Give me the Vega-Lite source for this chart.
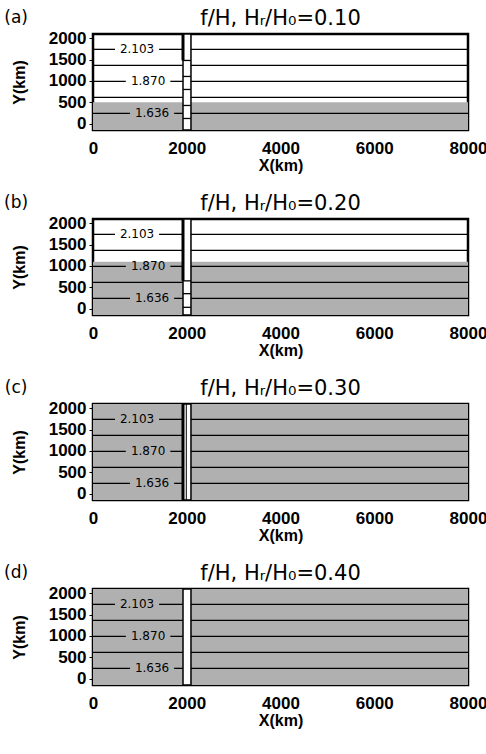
{
  "$schema": "https://vega.github.io/schema/vega-lite/v6.json",
  "padding": {"left": 2, "top": 6, "right": 2, "bottom": 4},
  "background": "white",
  "spacing": 89,
  "bounds": "flush",
  "config": {
    "view": {"stroke": "black", "strokeWidth": 2.5},
    "axis": {"grid": false, "domain": false, "labelColor": "black", "titleColor": "black",
      "labelFont": "Liberation Sans Narrow, Liberation Sans", "labelFontSize": 17, "labelFontWeight": "bold",
      "titleFont": "Liberation Sans", "titleFontSize": 16, "titleFontWeight": "bold", "tickColor": "black", "labelFlush": false},
    "axisX": {"ticks": false, "labelPadding": 10, "titlePadding": 1},
    "axisY": {"tickSize": 4, "labelPadding": 3, "titlePadding": 21, "labelOverlap": false},
    "title": {"font": "DejaVu Sans", "fontSize": 21, "fontWeight": "normal", "color": "black", "offset": -20, "frame": "group"}
  },
  "datasets": {
    "shade": [
      {"p": "a", "x": 0, "x2": 8000, "y": -150, "y2": 500},
      {"p": "b", "x": 0, "x2": 8000, "y": -150, "y2": 1100},
      {"p": "c", "x": 0, "x2": 8000, "y": -150, "y2": 2100},
      {"p": "d", "x": 0, "x2": 8000, "y": -150, "y2": 2100}
    ],
    "strip": [
      {"p": "a", "x": 1920, "x2": 2090, "y": -150, "y2": 2100},
      {"p": "b", "x": 1920, "x2": 2090, "y": -150, "y2": 2100},
      {"p": "c", "x": 1920, "x2": 2090, "y": -150, "y2": 2100},
      {"p": "d", "x": 1920, "x2": 2090, "y": -150, "y2": 2100}
    ],
    "seg": [
      {"p": "a", "x": 0, "x2": 470, "y": 1740}, {"p": "a", "x": 1410, "x2": 1920, "y": 1740}, {"p": "a", "x": 2090, "x2": 8000, "y": 1740},
      {"p": "a", "x": 0, "x2": 1920, "y": 1365}, {"p": "a", "x": 2090, "x2": 8000, "y": 1365},
      {"p": "a", "x": 0, "x2": 700, "y": 990}, {"p": "a", "x": 1650, "x2": 1920, "y": 990}, {"p": "a", "x": 2090, "x2": 8000, "y": 990},
      {"p": "a", "x": 0, "x2": 1920, "y": 615}, {"p": "a", "x": 2090, "x2": 8000, "y": 615},
      {"p": "a", "x": 0, "x2": 790, "y": 240}, {"p": "a", "x": 1730, "x2": 1920, "y": 240}, {"p": "a", "x": 2090, "x2": 8000, "y": 240},
      {"p": "a", "x": 1920, "x2": 2090, "y": 1480}, {"p": "a", "x": 1920, "x2": 2090, "y": 1105}, {"p": "a", "x": 1920, "x2": 2090, "y": 800}, {"p": "a", "x": 1920, "x2": 2090, "y": 425}, {"p": "a", "x": 1920, "x2": 2090, "y": 120},
      {"p": "b", "x": 0, "x2": 470, "y": 1740}, {"p": "b", "x": 1410, "x2": 1920, "y": 1740}, {"p": "b", "x": 2090, "x2": 8000, "y": 1740},
      {"p": "b", "x": 0, "x2": 1920, "y": 1365}, {"p": "b", "x": 2090, "x2": 8000, "y": 1365},
      {"p": "b", "x": 0, "x2": 700, "y": 990}, {"p": "b", "x": 1650, "x2": 1920, "y": 990}, {"p": "b", "x": 2090, "x2": 8000, "y": 990},
      {"p": "b", "x": 0, "x2": 1920, "y": 615}, {"p": "b", "x": 2090, "x2": 8000, "y": 615},
      {"p": "b", "x": 0, "x2": 790, "y": 240}, {"p": "b", "x": 1730, "x2": 1920, "y": 240}, {"p": "b", "x": 2090, "x2": 8000, "y": 240},
      {"p": "b", "x": 1920, "x2": 2090, "y": 650}, {"p": "b", "x": 1920, "x2": 2090, "y": 350}, {"p": "b", "x": 1920, "x2": 2090, "y": 30},
      {"p": "c", "x": 0, "x2": 470, "y": 1740}, {"p": "c", "x": 1410, "x2": 1920, "y": 1740}, {"p": "c", "x": 2090, "x2": 8000, "y": 1740},
      {"p": "c", "x": 0, "x2": 1920, "y": 1365}, {"p": "c", "x": 2090, "x2": 8000, "y": 1365},
      {"p": "c", "x": 0, "x2": 700, "y": 990}, {"p": "c", "x": 1650, "x2": 1920, "y": 990}, {"p": "c", "x": 2090, "x2": 8000, "y": 990},
      {"p": "c", "x": 0, "x2": 1920, "y": 615}, {"p": "c", "x": 2090, "x2": 8000, "y": 615},
      {"p": "c", "x": 0, "x2": 790, "y": 240}, {"p": "c", "x": 1730, "x2": 1920, "y": 240}, {"p": "c", "x": 2090, "x2": 8000, "y": 240},
      {"p": "d", "x": 0, "x2": 470, "y": 1740}, {"p": "d", "x": 1410, "x2": 1920, "y": 1740}, {"p": "d", "x": 2090, "x2": 8000, "y": 1740},
      {"p": "d", "x": 0, "x2": 1920, "y": 1365}, {"p": "d", "x": 2090, "x2": 8000, "y": 1365},
      {"p": "d", "x": 0, "x2": 700, "y": 990}, {"p": "d", "x": 1650, "x2": 1920, "y": 990}, {"p": "d", "x": 2090, "x2": 8000, "y": 990},
      {"p": "d", "x": 0, "x2": 1920, "y": 615}, {"p": "d", "x": 2090, "x2": 8000, "y": 615},
      {"p": "d", "x": 0, "x2": 790, "y": 240}, {"p": "d", "x": 1730, "x2": 1920, "y": 240}, {"p": "d", "x": 2090, "x2": 8000, "y": 240}
    ],
    "edge": [
      {"p": "a", "x": 1920, "y": 1480, "y2": 2100},
      {"p": "b", "x": 1920, "y": 650, "y2": 2100},
      {"p": "c", "x": 1920, "y": -150, "y2": 2100}
    ],
    "mid": [
      {"p": "c", "x": 1990, "y": -150, "y2": 2100}
    ],
    "lab": [
      {"p": "a", "x": 940, "y": 1740, "t": "2.103"}, {"p": "a", "x": 1175, "y": 990, "t": "1.870"}, {"p": "a", "x": 1260, "y": 240, "t": "1.636"},
      {"p": "b", "x": 940, "y": 1740, "t": "2.103"}, {"p": "b", "x": 1175, "y": 990, "t": "1.870"}, {"p": "b", "x": 1260, "y": 240, "t": "1.636"},
      {"p": "c", "x": 940, "y": 1740, "t": "2.103"}, {"p": "c", "x": 1175, "y": 990, "t": "1.870"}, {"p": "c", "x": 1260, "y": 240, "t": "1.636"},
      {"p": "d", "x": 940, "y": 1740, "t": "2.103"}, {"p": "d", "x": 1175, "y": 990, "t": "1.870"}, {"p": "d", "x": 1260, "y": 240, "t": "1.636"}
    ],
    "letter": [
      {"p": "a", "x": -1640, "y": 2475, "t": "(a)"},
      {"p": "b", "x": -1640, "y": 2475, "t": "(b)"},
      {"p": "c", "x": -1640, "y": 2475, "t": "(c)"},
      {"p": "d", "x": -1640, "y": 2475, "t": "(d)"}
    ]
  },
  "vconcat": [
    {
      "width": 375, "height": 96,
      "title": "f/H, Hᵣ/H₀=0.10",
      "encoding": {
        "x": {"field": "x", "type": "quantitative", "scale": {"domain": [0, 8000], "nice": false, "zero": false}, "axis": {"title": "X(km)", "values": [0, 2000, 4000, 6000, 8000], "format": "d"}},
        "y": {"field": "y", "type": "quantitative", "scale": {"domain": [-150, 2100], "nice": false, "zero": false}, "axis": {"title": "Y(km)", "values": [0, 500, 1000, 1500, 2000], "format": "d"}}
      },
      "layer": [
        {"data": {"name": "shade"}, "transform": [{"filter": {"field": "p", "equal": "a"}}], "mark": {"type": "rect", "fill": "#b0b0b0"}, "encoding": {"x2": {"field": "x2"}, "y2": {"field": "y2"}}},
        {"data": {"name": "strip"}, "transform": [{"filter": {"field": "p", "equal": "a"}}], "mark": {"type": "rect", "fill": "white", "stroke": "black", "strokeWidth": 1.5}, "encoding": {"x2": {"field": "x2"}, "y2": {"field": "y2"}}},
        {"data": {"name": "seg"}, "transform": [{"filter": {"field": "p", "equal": "a"}}], "mark": {"type": "rule", "color": "black", "strokeWidth": 1.3}, "encoding": {"x2": {"field": "x2"}}},
        {"data": {"name": "edge"}, "transform": [{"filter": {"field": "p", "equal": "a"}}], "mark": {"type": "rule", "color": "black", "strokeWidth": 3}, "encoding": {"y2": {"field": "y2"}}},
        {"data": {"name": "lab"}, "transform": [{"filter": {"field": "p", "equal": "a"}}], "mark": {"type": "text", "font": "DejaVu Sans", "fontSize": 12, "color": "black", "baseline": "middle"}, "encoding": {"text": {"field": "t"}}},
        {"data": {"name": "letter"}, "transform": [{"filter": {"field": "p", "equal": "a"}}], "mark": {"type": "text", "font": "DejaVu Sans", "fontSize": 17, "color": "black", "baseline": "middle", "clip": false}, "encoding": {"text": {"field": "t"}}}
      ]
    },
    {
      "width": 375, "height": 96,
      "title": "f/H, Hᵣ/H₀=0.20",
      "encoding": {
        "x": {"field": "x", "type": "quantitative", "scale": {"domain": [0, 8000], "nice": false, "zero": false}, "axis": {"title": "X(km)", "values": [0, 2000, 4000, 6000, 8000], "format": "d"}},
        "y": {"field": "y", "type": "quantitative", "scale": {"domain": [-150, 2100], "nice": false, "zero": false}, "axis": {"title": "Y(km)", "values": [0, 500, 1000, 1500, 2000], "format": "d"}}
      },
      "layer": [
        {"data": {"name": "shade"}, "transform": [{"filter": {"field": "p", "equal": "b"}}], "mark": {"type": "rect", "fill": "#b0b0b0"}, "encoding": {"x2": {"field": "x2"}, "y2": {"field": "y2"}}},
        {"data": {"name": "strip"}, "transform": [{"filter": {"field": "p", "equal": "b"}}], "mark": {"type": "rect", "fill": "white", "stroke": "black", "strokeWidth": 1.5}, "encoding": {"x2": {"field": "x2"}, "y2": {"field": "y2"}}},
        {"data": {"name": "seg"}, "transform": [{"filter": {"field": "p", "equal": "b"}}], "mark": {"type": "rule", "color": "black", "strokeWidth": 1.3}, "encoding": {"x2": {"field": "x2"}}},
        {"data": {"name": "edge"}, "transform": [{"filter": {"field": "p", "equal": "b"}}], "mark": {"type": "rule", "color": "black", "strokeWidth": 3}, "encoding": {"y2": {"field": "y2"}}},
        {"data": {"name": "lab"}, "transform": [{"filter": {"field": "p", "equal": "b"}}], "mark": {"type": "text", "font": "DejaVu Sans", "fontSize": 12, "color": "black", "baseline": "middle"}, "encoding": {"text": {"field": "t"}}},
        {"data": {"name": "letter"}, "transform": [{"filter": {"field": "p", "equal": "b"}}], "mark": {"type": "text", "font": "DejaVu Sans", "fontSize": 17, "color": "black", "baseline": "middle", "clip": false}, "encoding": {"text": {"field": "t"}}}
      ]
    },
    {
      "width": 375, "height": 96,
      "title": "f/H, Hᵣ/H₀=0.30",
      "encoding": {
        "x": {"field": "x", "type": "quantitative", "scale": {"domain": [0, 8000], "nice": false, "zero": false}, "axis": {"title": "X(km)", "values": [0, 2000, 4000, 6000, 8000], "format": "d"}},
        "y": {"field": "y", "type": "quantitative", "scale": {"domain": [-150, 2100], "nice": false, "zero": false}, "axis": {"title": "Y(km)", "values": [0, 500, 1000, 1500, 2000], "format": "d"}}
      },
      "layer": [
        {"data": {"name": "shade"}, "transform": [{"filter": {"field": "p", "equal": "c"}}], "mark": {"type": "rect", "fill": "#b0b0b0"}, "encoding": {"x2": {"field": "x2"}, "y2": {"field": "y2"}}},
        {"data": {"name": "strip"}, "transform": [{"filter": {"field": "p", "equal": "c"}}], "mark": {"type": "rect", "fill": "white", "stroke": "black", "strokeWidth": 1.5}, "encoding": {"x2": {"field": "x2"}, "y2": {"field": "y2"}}},
        {"data": {"name": "seg"}, "transform": [{"filter": {"field": "p", "equal": "c"}}], "mark": {"type": "rule", "color": "black", "strokeWidth": 1.3}, "encoding": {"x2": {"field": "x2"}}},
        {"data": {"name": "edge"}, "transform": [{"filter": {"field": "p", "equal": "c"}}], "mark": {"type": "rule", "color": "black", "strokeWidth": 3}, "encoding": {"y2": {"field": "y2"}}},
        {"data": {"name": "mid"}, "transform": [{"filter": {"field": "p", "equal": "c"}}], "mark": {"type": "rule", "color": "black", "strokeWidth": 1}, "encoding": {"y2": {"field": "y2"}}},
        {"data": {"name": "lab"}, "transform": [{"filter": {"field": "p", "equal": "c"}}], "mark": {"type": "text", "font": "DejaVu Sans", "fontSize": 12, "color": "black", "baseline": "middle"}, "encoding": {"text": {"field": "t"}}},
        {"data": {"name": "letter"}, "transform": [{"filter": {"field": "p", "equal": "c"}}], "mark": {"type": "text", "font": "DejaVu Sans", "fontSize": 17, "color": "black", "baseline": "middle", "clip": false}, "encoding": {"text": {"field": "t"}}}
      ]
    },
    {
      "width": 375, "height": 96,
      "title": "f/H, Hᵣ/H₀=0.40",
      "encoding": {
        "x": {"field": "x", "type": "quantitative", "scale": {"domain": [0, 8000], "nice": false, "zero": false}, "axis": {"title": "X(km)", "values": [0, 2000, 4000, 6000, 8000], "format": "d"}},
        "y": {"field": "y", "type": "quantitative", "scale": {"domain": [-150, 2100], "nice": false, "zero": false}, "axis": {"title": "Y(km)", "values": [0, 500, 1000, 1500, 2000], "format": "d"}}
      },
      "layer": [
        {"data": {"name": "shade"}, "transform": [{"filter": {"field": "p", "equal": "d"}}], "mark": {"type": "rect", "fill": "#b0b0b0"}, "encoding": {"x2": {"field": "x2"}, "y2": {"field": "y2"}}},
        {"data": {"name": "strip"}, "transform": [{"filter": {"field": "p", "equal": "d"}}], "mark": {"type": "rect", "fill": "white", "stroke": "black", "strokeWidth": 1.5}, "encoding": {"x2": {"field": "x2"}, "y2": {"field": "y2"}}},
        {"data": {"name": "seg"}, "transform": [{"filter": {"field": "p", "equal": "d"}}], "mark": {"type": "rule", "color": "black", "strokeWidth": 1.3}, "encoding": {"x2": {"field": "x2"}}},
        {"data": {"name": "lab"}, "transform": [{"filter": {"field": "p", "equal": "d"}}], "mark": {"type": "text", "font": "DejaVu Sans", "fontSize": 12, "color": "black", "baseline": "middle"}, "encoding": {"text": {"field": "t"}}},
        {"data": {"name": "letter"}, "transform": [{"filter": {"field": "p", "equal": "d"}}], "mark": {"type": "text", "font": "DejaVu Sans", "fontSize": 17, "color": "black", "baseline": "middle", "clip": false}, "encoding": {"text": {"field": "t"}}}
      ]
    }
  ]
}
